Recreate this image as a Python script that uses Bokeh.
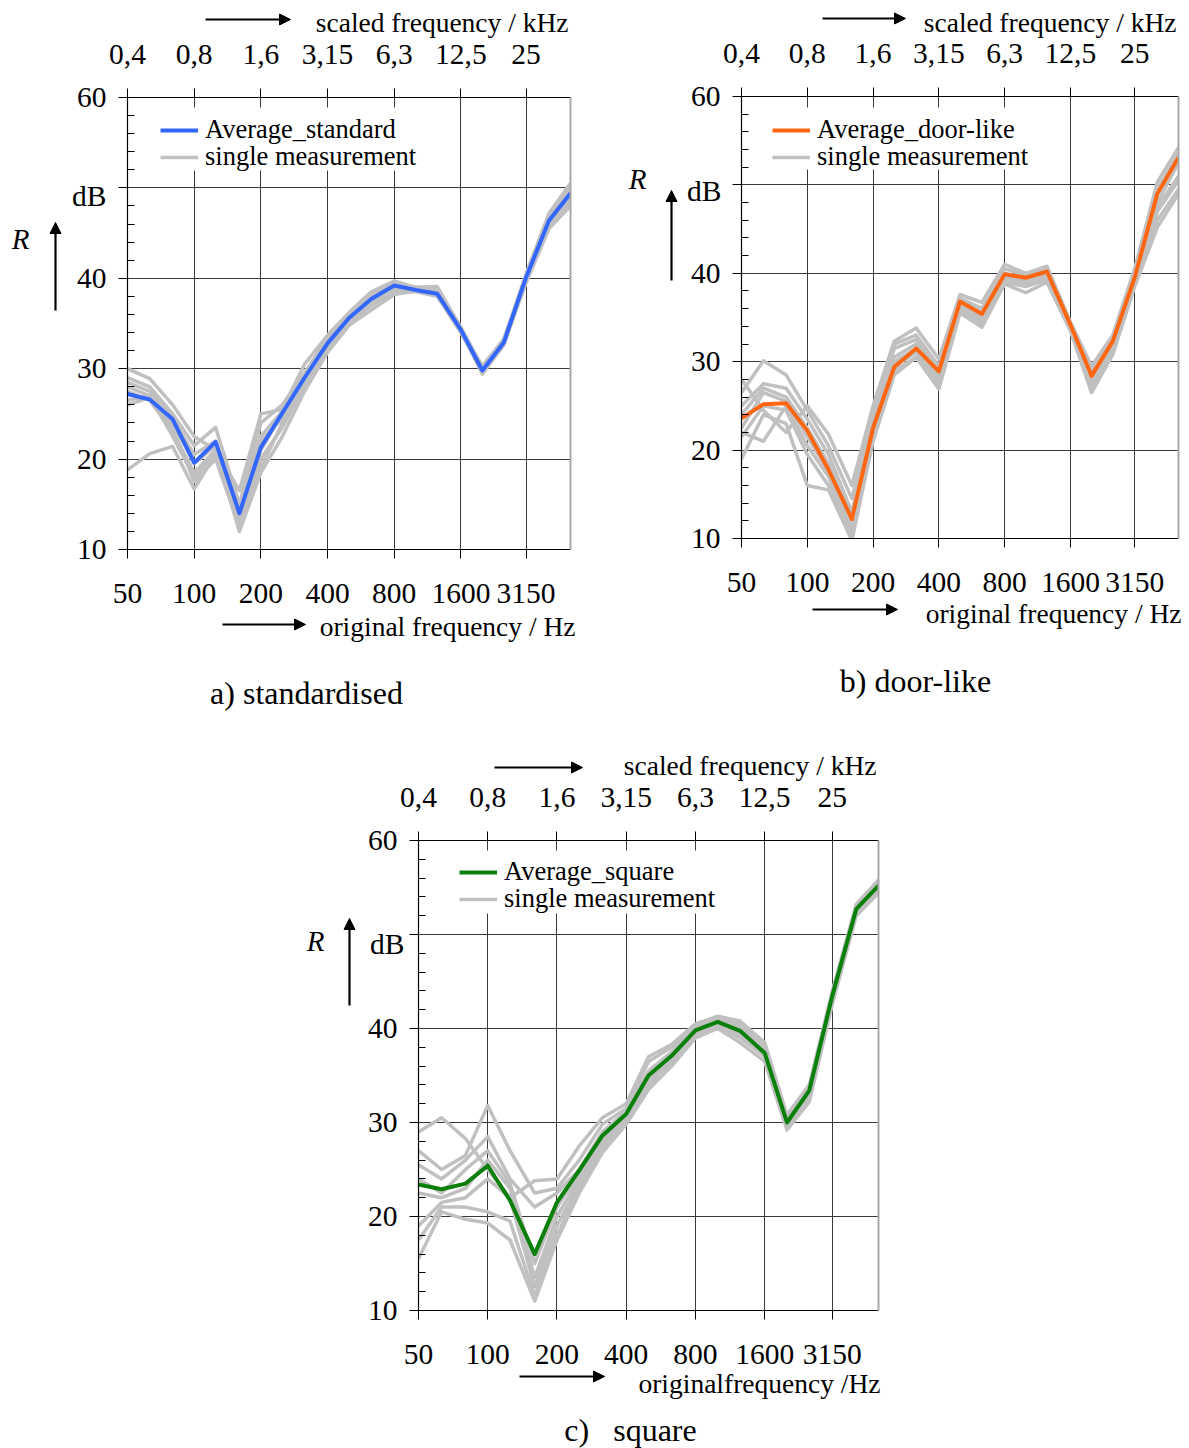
from bokeh.plotting import figure
from bokeh.models import (Range1d, FixedTicker, LinearAxis, LogAxis, Label, Arrow,
                          NormalHead, Legend, LegendItem, Spacer, GridBox, BoxAnnotation)
from bokeh.layouts import column, row
from bokeh.embed import file_html
from bokeh.resources import INLINE

# third-octave band centre frequencies (original frequency, Hz)
FREQ_HZ = [50, 63, 80, 100, 125, 160, 200, 250, 315, 400, 500, 630,
           800, 1000, 1250, 1600, 2000, 2500, 3150, 4000, 5000]
TICK_HZ = [50, 100, 200, 400, 800, 1600, 3150]
HZ_LABELS = ["50", "100", "200", "400", "800", "1600", "3150"]
KHZ_LABELS = ["0,4", "0,8", "1,6", "3,15", "6,3", "12,5", "25"]
R_TICKS = [10, 20, 30, 40, 50, 60]
R_LABELS = ["10", "20", "30", "40", "", "60"]   # unit "dB" sits in place of 50
R_MINOR = [v for v in range(10, 61, 2) if v % 10]

# a) standardised
AVG_STANDARD = [27.2, 26.6, 24.4, 19.6, 21.9, 14.0, 21.3, 25.1, 29.0, 32.8, 35.6,
                37.7, 39.2, 38.7, 38.3, 34.3, 29.8, 32.9, 40.1, 46.4, 49.4]
SINGLE_STANDARD = [
    [30.0, 28.9, 26.0, 22.5, 21.0, 16.5, 25.0, 25.5, 30.5, 33.7, 36.2, 38.5, 39.7, 39.0, 39.1, 34.5, 30.3, 33.3, 40.5, 47.2, 50.5],
    [29.0, 28.0, 25.0, 21.5, 23.5, 15.0, 24.0, 26.0, 29.5, 33.0, 35.8, 38.0, 39.4, 38.9, 38.5, 34.3, 30.0, 33.0, 40.3, 46.8, 49.8],
    [28.5, 27.5, 24.5, 20.5, 22.0, 14.0, 22.0, 24.5, 28.8, 32.5, 35.5, 37.5, 39.0, 38.7, 38.8, 34.2, 29.8, 32.9, 40.0, 46.5, 49.5],
    [28.0, 27.0, 24.0, 19.5, 21.5, 13.0, 20.0, 23.5, 28.0, 32.0, 35.0, 37.0, 38.5, 38.5, 38.0, 34.0, 29.6, 32.8, 39.8, 46.0, 48.5],
    [27.5, 26.5, 23.0, 18.5, 21.0, 12.0, 18.5, 22.5, 27.5, 31.8, 34.8, 36.5, 38.2, 38.6, 38.3, 34.4, 29.4, 32.7, 39.5, 45.5, 48.0],
    [26.5, 27.0, 22.5, 18.0, 20.5, 13.5, 19.0, 24.0, 28.5, 32.5, 35.3, 37.2, 38.8, 38.8, 38.6, 34.2, 29.7, 32.8, 40.0, 46.2, 49.0],
    [26.0, 26.8, 23.5, 17.5, 20.0, 12.5, 21.0, 25.0, 29.2, 33.2, 36.0, 37.8, 39.3, 39.0, 38.9, 34.6, 30.0, 33.1, 40.2, 46.8, 50.0],
    [18.8, 20.6, 21.4, 16.7, 20.5, 14.5, 22.5, 25.3, 29.5, 33.4, 35.9, 38.2, 39.5, 38.9, 38.4, 34.1, 29.5, 32.6, 39.9, 46.3, 49.2],
]

# b) door-like
AVG_DOOR = [23.6, 25.2, 25.3, 22.2, 17.8, 12.2, 22.5, 29.4, 31.5, 28.9, 36.8,
            35.4, 39.9, 39.5, 40.2, 34.2, 28.4, 32.3, 39.5, 49.0, 53.1]
SINGLE_DOOR = [
    [28.0, 24.5, 22.0, 25.0, 21.8, 16.0, 25.0, 32.3, 33.8, 30.3, 37.6, 36.7, 41.0, 40.0, 40.8, 34.5, 29.5, 33.0, 40.5, 50.3, 54.2],
    [26.5, 30.1, 28.5, 24.5, 20.5, 14.5, 24.0, 32.0, 33.0, 29.5, 37.2, 36.0, 40.5, 39.8, 40.5, 34.3, 29.0, 32.8, 40.0, 49.5, 53.5],
    [25.0, 27.5, 27.0, 23.5, 19.5, 13.0, 23.5, 31.5, 32.5, 29.0, 37.0, 35.5, 40.0, 39.5, 40.3, 34.2, 28.8, 32.5, 39.7, 49.0, 53.0],
    [24.0, 27.0, 26.0, 22.5, 18.5, 12.0, 23.0, 30.5, 32.0, 28.5, 36.5, 35.0, 39.8, 39.3, 40.0, 34.0, 28.5, 32.3, 39.5, 48.0, 52.5],
    [22.5, 26.5, 25.5, 21.5, 17.5, 11.0, 22.5, 30.0, 31.5, 28.0, 36.3, 34.7, 39.5, 39.0, 39.8, 34.0, 28.0, 32.0, 39.3, 47.5, 51.0],
    [22.0, 21.0, 25.0, 20.5, 17.0, 10.5, 22.0, 29.5, 31.0, 27.5, 36.0, 34.5, 39.3, 38.8, 39.5, 33.8, 27.5, 31.5, 39.0, 47.0, 50.5],
    [21.5, 25.0, 24.5, 19.5, 16.0, 10.0, 21.5, 29.0, 30.5, 27.0, 35.8, 34.2, 39.0, 38.5, 39.3, 33.7, 27.0, 31.0, 38.7, 46.0, 49.5],
    [19.0, 24.0, 23.0, 16.0, 15.5, 9.8, 21.0, 28.5, 30.5, 26.9, 35.5, 33.9, 38.8, 37.8, 39.0, 33.5, 26.5, 30.8, 38.5, 45.2, 49.0],
]

# c) square
AVG_SQUARE = [23.4, 22.9, 23.5, 25.4, 21.7, 16.0, 21.5, 24.9, 28.6, 30.9, 35.0,
              37.1, 39.8, 40.7, 39.75, 37.4, 30.0, 33.4, 43.5, 52.7, 55.2]
SINGLE_SQUARE = [
    [29.0, 30.5, 28.3, 25.0, 22.0, 23.8, 24.0, 27.5, 30.5, 32.0, 37.0, 38.3, 40.5, 41.3, 40.8, 38.5, 30.8, 34.0, 44.0, 53.2, 55.8],
    [27.0, 25.0, 26.5, 31.8, 27.0, 22.5, 23.0, 26.0, 29.8, 31.5, 36.5, 38.0, 40.2, 41.0, 40.5, 38.0, 30.5, 33.8, 43.8, 53.0, 55.6],
    [25.5, 24.0, 26.0, 28.5, 24.0, 21.0, 22.5, 25.0, 29.0, 31.2, 35.5, 37.5, 40.0, 40.8, 40.2, 37.8, 30.2, 33.6, 43.6, 52.8, 55.4],
    [24.0, 22.5, 25.0, 27.0, 23.5, 15.0, 21.0, 24.5, 28.5, 31.0, 35.2, 37.2, 39.8, 40.7, 39.8, 37.5, 30.0, 33.4, 43.4, 52.7, 55.2],
    [22.5, 22.0, 23.0, 26.0, 23.0, 13.5, 20.0, 24.0, 28.0, 30.8, 35.0, 37.0, 39.6, 40.5, 39.6, 37.3, 29.8, 33.2, 43.2, 52.5, 55.0],
    [19.0, 21.5, 22.0, 24.0, 22.0, 12.5, 19.0, 23.5, 27.5, 30.5, 34.5, 36.8, 39.4, 40.3, 39.3, 37.2, 29.6, 33.0, 43.0, 52.3, 54.8],
    [17.5, 21.0, 21.0, 20.5, 19.5, 11.5, 18.0, 23.0, 27.0, 30.2, 34.0, 36.5, 39.2, 40.2, 39.0, 37.0, 29.4, 32.6, 42.8, 52.2, 54.6],
    [15.5, 20.5, 19.7, 19.3, 17.5, 11.0, 17.5, 22.5, 26.8, 29.8, 33.5, 36.0, 39.0, 40.0, 38.5, 36.5, 29.2, 32.2, 42.6, 52.0, 54.4],
]

FONT = "Liberation Serif"
TICK_SIZE = "29.5px"
GRAY = "#c0c0c0"
PAGE_W, PAGE_H = 1189, 1448
ROW_STEP = 27


def panel(avg, singles, color, avg_name, geom, legend_at, legend_box):
    W, H, bl, br, bt, bb = geom
    p = figure(width=W, height=H, x_axis_type="log",
               x_range=Range1d(FREQ_HZ[0], FREQ_HZ[-1]), y_range=Range1d(10, 60),
               output_backend="svg", toolbar_location=None,
               min_border_left=bl, min_border_right=br,
               min_border_top=bt, min_border_bottom=bb,
               outline_line_color=None)

    # grid
    p.xgrid.ticker = FixedTicker(ticks=TICK_HZ)
    p.ygrid.ticker = FixedTicker(ticks=R_TICKS)
    for g in (p.xgrid[0], p.ygrid[0]):
        g.grid_line_color = "#3a3a3a"
        g.grid_line_width = 1

    # original frequency below, scaled frequency (x8) above
    xb = p.xaxis[0]
    xb.ticker = FixedTicker(ticks=TICK_HZ)
    xb.major_label_overrides = dict(zip(TICK_HZ, HZ_LABELS))
    xt = LogAxis(ticker=FixedTicker(ticks=TICK_HZ),
                 major_label_overrides=dict(zip(TICK_HZ, KHZ_LABELS)))
    p.add_layout(xt, "above")
    for ax in (xb, xt):
        ax.axis_line_color = "black"
        ax.axis_line_width = 1.2
        ax.major_tick_out = 9
        ax.major_tick_in = 0
        ax.minor_tick_out = 0
        ax.minor_tick_in = 0
        ax.major_tick_line_color = "black"
        ax.major_label_text_font = FONT
        ax.major_label_text_font_size = TICK_SIZE
        ax.major_label_text_color = "black"
    xb.major_label_standoff = 25
    xt.major_label_standoff = 25

    # sound reduction index
    yl = p.yaxis[0]
    yl.ticker = FixedTicker(ticks=R_TICKS, minor_ticks=R_MINOR)
    yl.major_label_overrides = dict(zip(R_TICKS, R_LABELS))
    yl.axis_line_color = "black"
    yl.axis_line_width = 1.2
    yl.major_tick_out = 9
    yl.major_tick_in = 0
    yl.minor_tick_in = 7
    yl.minor_tick_out = 0
    yl.major_tick_line_color = "black"
    yl.minor_tick_line_color = "black"
    yl.major_label_text_font = FONT
    yl.major_label_text_font_size = TICK_SIZE
    yl.major_label_text_color = "black"
    yl.major_label_standoff = 12

    yr = LinearAxis(ticker=FixedTicker(ticks=[]), axis_line_color="#a8a8a8",
                    axis_line_width=2, major_tick_out=0, major_tick_in=0,
                    minor_tick_out=0, minor_tick_in=0, major_label_standoff=0)
    p.add_layout(yr, "right")

    # measurements
    grays = [p.line(FREQ_HZ, s, line_color=GRAY, line_width=3.5, line_join="round")
             for s in singles]
    avg_r = p.line(FREQ_HZ, avg, line_color=color, line_width=4, line_join="round")

    # legend: white panel with two tightly spaced entries
    l, r, b, t = legend_box
    p.add_layout(BoxAnnotation(left=l, right=r, bottom=b, top=t,
                               left_units="screen", right_units="screen",
                               bottom_units="screen", top_units="screen",
                               fill_color="white", fill_alpha=1, line_color=None))
    lx, vy = legend_at
    for k, (name, rend) in enumerate([(avg_name, avg_r), ("single measurement", grays[0])]):
        p.add_layout(Legend(items=[LegendItem(label=name, renderers=[rend])],
                            location=(lx, vy + ROW_STEP * (1 - k)), padding=8,
                            spacing=0, margin=0, glyph_width=38, glyph_height=20,
                            label_standoff=7, label_text_font=FONT,
                            label_text_font_size="26.5px", label_text_color="black",
                            border_line_color=None, background_fill_alpha=0))
    return p


pa = panel(AVG_STANDARD, SINGLE_STANDARD, "#3366ff", "Average_standard",
           (600, 720, 127, 30, 97, 171), (33, 377), (26, 292, 379, 442))
pb = panel(AVG_DOOR, SINGLE_DOOR, "#ff6611", "Average_door-like",
           (589, 720, 141, 11, 96, 182), (31, 366), (24, 289, 369, 431))
pc = panel(AVG_SQUARE, SINGLE_SQUARE, "#0a800a", "Average_square",
           (600, 728, 128, 12, 120, 138), (41, 396), (32, 304, 397, 460))

charts = column(row(pa, column(pb)), row(Spacer(width=290, height=728), pc))

# axis titles, units, arrows and captions drawn on a transparent sheet over the charts
sheet = figure(width=PAGE_W, height=PAGE_H, x_range=Range1d(0, PAGE_W),
               y_range=Range1d(PAGE_H, 0), x_axis_type=None, y_axis_type=None,
               min_border=0, outline_line_color=None, background_fill_color=None,
               border_fill_color=None, output_backend="svg", toolbar_location=None)


def text(s, x, y, align="left", size="27.5px", style="normal"):
    sheet.add_layout(Label(x=x, y=y, text=s, text_font=FONT, text_font_size=size,
                           text_font_style=style, text_align=align,
                           text_baseline="middle", text_color="black"))


def arrow(x0, y0, x1, y1):
    sheet.add_layout(Arrow(end=NormalHead(size=11, fill_color="black", line_color="black",
                                          line_width=1),
                           x_start=x0, y_start=y0, x_end=x1, y_end=y1,
                           line_color="black", line_width=2.2))


TITLES = [
    dict(top=(568, 22), top_arrow=(205, 290, 19),
         bottom=("original frequency / Hz", 575, 626), bottom_arrow=(222, 305, 624),
         caption=("a) standardised", 306, 692), R=(20, 238), R_arrow=(55, 310, 222),
         unit=(106, 195)),
    dict(top=(1176, 22), top_arrow=(822, 905, 18),
         bottom=("original frequency / Hz", 1181, 613), bottom_arrow=(812, 897, 609),
         caption=("b) door-like", 915, 680), R=(637, 178), R_arrow=(671, 280, 190),
         unit=(721, 190)),
    dict(top=(876, 765), top_arrow=(494, 582, 767),
         bottom=("originalfrequency /Hz", 880, 1383), bottom_arrow=(519, 604, 1376),
         caption=("c)\u00a0\u00a0\u00a0square", 630, 1429), R=(315, 940),
         R_arrow=(349, 1005, 918), unit=(404, 943)),
]

for t in TITLES:
    text("scaled frequency / kHz", t["top"][0], t["top"][1], align="right")
    x0, x1, y = t["top_arrow"]
    arrow(x0, y, x1, y)
    s, x, y = t["bottom"]
    text(s, x, y, align="right")
    x0, x1, y = t["bottom_arrow"]
    arrow(x0, y, x1, y)
    s, x, y = t["caption"]
    text(s, x, y, align="center", size="32px")
    text("R", t["R"][0], t["R"][1], align="center", size="29px", style="italic")
    x, y0, y1 = t["R_arrow"]
    arrow(x, y0, x, y1)
    text("dB", t["unit"][0], t["unit"][1], align="right", size=TICK_SIZE)

layout = GridBox(children=[(charts, 0, 0), (sheet, 0, 0)])

with open("out.html", "w") as f:
    f.write(file_html(layout, INLINE))
